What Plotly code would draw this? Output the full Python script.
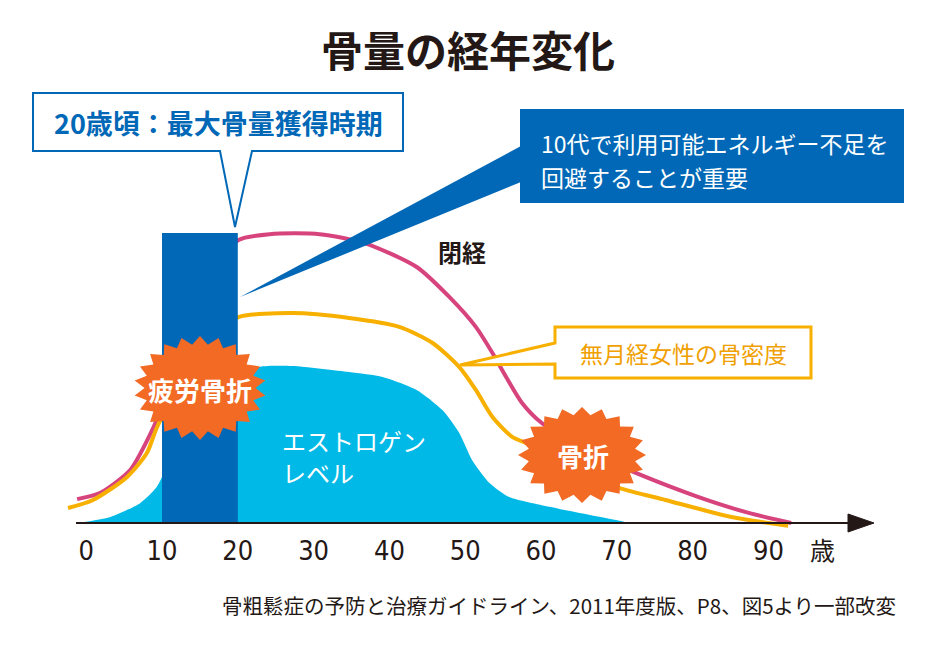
import math
import plotly.graph_objects as go

W, H = 934, 650
OFF = 8                      # page body margin offset of the plot div
FW, FH = W - OFF, H - OFF    # figure size

# ---------------- data ----------------
ages_normal = [-1.2, 1.8, 5.8, 8.4, 10.4, 15.0, 18.3, 20.1, 24.2, 30.8, 36.7, 43.6,
               47.9, 51.4, 53.6, 55.4, 57.5, 60.1, 66.0, 72.5, 80.8, 87.4, 93.0]
bone_normal = [8.3, 10.4, 18.4, 30.6, 42.7, 77.0, 93.0, 98.3, 100.3, 100.3, 97.2, 88.9,
               78.5, 68.1, 59.0, 50.7, 41.7, 34.7, 25.0, 17.4, 9.0, 3.5, 0.0]

ages_amen = [-2.4, 0.9, 5.4, 8.0, 9.3, 13.0, 17.0, 20.1, 27.2, 34.7, 41.3, 45.7,
             49.2, 51.4, 53.6, 56.2, 58.0, 64.0, 70.3, 76.4, 85.1, 92.6]
bone_amen = [5.2, 8.0, 16.0, 24.3, 33.0, 52.0, 66.0, 71.5, 72.9, 71.2, 68.1, 62.5,
             54.2, 46.2, 36.8, 29.9, 27.8, 19.0, 12.2, 8.0, 2.1, -1.0]

ages_estrogen = [-1.1, 3.2, 7.1, 9.3, 12.4, 17.6, 20.3, 22.9, 27.2, 34.7, 39.1, 43.6,
                 47.0, 49.2, 50.9, 53.2, 55.8, 61.1, 69.9, 71.6]
estrogen_level = [0.0, 2.1, 6.9, 12.5, 28.8, 44.4, 50.7, 54.2, 54.5, 52.4, 50.7, 46.2,
                  39.2, 31.3, 21.9, 13.9, 9.0, 5.6, 1.0, 0.0]

peak_window = [10, 20]          # 最大骨量獲得時期 (age span)
peak_bar_height = 100.7

tick_vals = [0, 10, 20, 30, 40, 50, 60, 70, 80, 90]
tick_text = ["0", "10", "20", "30", "40", "50", "60", "70", "80", "90"]

# ---------------- colours / fonts ----------------
PINK = "#d7447d"
ORANGE = "#f8b000"
CYAN = "#00b9e6"
BLUE = "#0068b6"
BURST = "#f26a24"
INK = "#231815"
JP = "Noto Sans CJK JP"

# ---------------- layout geometry (pixel mapping, page pixels) ----------------
X_REF_PX, X_REF_AGE, PX_PER_YR = 162 - OFF, 10, 7.58
Y0_PX, PX_PER_UNIT = 523 - OFF, 2.88
x_range = [X_REF_AGE - X_REF_PX / PX_PER_YR, X_REF_AGE + (FW - X_REF_PX) / PX_PER_YR]
y_range = [-(FH - Y0_PX) / PX_PER_UNIT, Y0_PX / PX_PER_UNIT]


def P(x, y):
    return (x - OFF) / FW, 1 - (y - OFF) / FH


def path(points, close=True):
    s = ""
    for i, (x, y) in enumerate(points):
        px, py = P(x, y)
        s += ("M" if i == 0 else "L") + f" {px:.5f},{py:.5f} "
    return s + ("Z" if close else "")


def burst(cx, cy, rx, ry, n, inner):
    pts = []
    for i in range(2 * n):
        a = math.pi * i / n - math.pi / 2
        r = 1.0 if i % 2 == 0 else inner
        pts.append((cx + rx * r * math.cos(a), cy + ry * r * math.sin(a)))
    return path(pts)


fig = go.Figure()

# estrogen area
fig.add_trace(go.Scatter(x=ages_estrogen, y=estrogen_level, mode="lines",
                         line=dict(color=CYAN, width=0, shape="spline", smoothing=0.6),
                         fill="tozeroy", fillcolor=CYAN, hoverinfo="skip"))
# normal bone mass
fig.add_trace(go.Scatter(x=ages_normal, y=bone_normal, mode="lines",
                         line=dict(color=PINK, width=4, shape="spline", smoothing=0.7),
                         hoverinfo="skip"))
# amenorrhoea bone mass
fig.add_trace(go.Scatter(x=ages_amen, y=bone_amen, mode="lines",
                         line=dict(color=ORANGE, width=4, shape="spline", smoothing=0.7),
                         hoverinfo="skip"))
# peak bone mass window
bx = [peak_window[0], peak_window[0], peak_window[1], peak_window[1]]
by = [0, peak_bar_height, peak_bar_height, 0]
fig.add_trace(go.Scatter(x=bx, y=by, mode="lines", line=dict(width=0, color=BLUE),
                         fill="toself", fillcolor=BLUE, hoverinfo="skip"))

shapes = []
# axis line + arrow head
shapes.append(dict(type="path", xref="paper", yref="paper",
                   path=path([(76, 523), (850, 523)], close=False),
                   line=dict(color=INK, width=2), layer="above"))
shapes.append(dict(type="path", xref="paper", yref="paper",
                   path=path([(848, 514), (874, 523), (848, 532)]),
                   fillcolor=INK, line=dict(color=INK, width=1), layer="above"))
# wedge from blue box to bar
shapes.append(dict(type="path", xref="paper", yref="paper",
                   path=path([(240, 297), (521, 146), (521, 182)]),
                   fillcolor=BLUE, line=dict(width=0), layer="above"))
# blue info box
shapes.append(dict(type="path", xref="paper", yref="paper",
                   path=path([(520, 109), (904, 109), (904, 203), (520, 203)]),
                   fillcolor=BLUE, line=dict(width=0), layer="above"))
# 20歳 callout
shapes.append(dict(type="path", xref="paper", yref="paper",
                   path=path([(33, 93), (403, 93), (403, 151), (252, 151), (235, 227),
                              (220, 151), (33, 151)]),
                   fillcolor="white", line=dict(color=BLUE, width=2), layer="above"))
# 無月経 callout
shapes.append(dict(type="path", xref="paper", yref="paper",
                   path=path([(555, 327), (811, 327), (811, 378), (555, 378), (555, 364),
                              (460, 365), (555, 343)]),
                   fillcolor="white", line=dict(color=ORANGE, width=3), layer="above"))
# bursts
shapes.append(dict(type="path", xref="paper", yref="paper",
                   path=burst(200, 388, 66, 52, 22, 0.84),
                   fillcolor=BURST, line=dict(width=0), layer="above"))
shapes.append(dict(type="path", xref="paper", yref="paper",
                   path=burst(582, 455, 64, 48, 20, 0.84),
                   fillcolor=BURST, line=dict(width=0), layer="above"))


def txt(x, y, s, size, color, bold=False, xanchor="center", family=JP):
    px, py = P(x, y)
    t = f"<b>{s}</b>" if bold else s
    return dict(x=px, y=py, xref="paper", yref="paper", text=t, showarrow=False,
                xanchor=xanchor, yanchor="middle",
                font=dict(family=family, size=size, color=color))


annotations = [
    txt(468, 49, "骨量の経年変化", 42, INK, bold=True),
    txt(218, 122, "20歳頃：最大骨量獲得時期", 27, BLUE, bold=True),
    txt(539, 143, "10代で利用可能エネルギー不足を", 23, "white", xanchor="left"),
    txt(539, 177, "回避することが重要", 23, "white", xanchor="left"),
    txt(462, 251, "閉経", 24, INK, bold=True),
    txt(683, 353, "無月経女性の骨密度", 23, "#f0a000"),
    txt(200, 389, "疲労骨折", 26, "white", bold=True),
    txt(583, 455, "骨折", 26, "white", bold=True),
    txt(280, 440, "エストロゲン", 24, "white", xanchor="left"),
    txt(280, 472, "レベル", 24, "white", xanchor="left"),
    txt(822, 549, "歳", 25, INK),
    txt(898, 605, "骨粗鬆症の予防と治療ガイドライン、2011年度版、P8、図5より一部改変",
        20.5, INK, xanchor="right"),
]

fig.update_layout(
    width=FW, height=FH,
    margin=dict(l=0, r=0, t=0, b=0),
    paper_bgcolor="white", plot_bgcolor="white",
    showlegend=False,
    shapes=shapes,
    annotations=annotations,
    xaxis=dict(range=x_range, showgrid=False, zeroline=False, showline=False,
               anchor="free", position=1 - Y0_PX / FH,
               tickmode="array", tickvals=tick_vals, ticktext=tick_text,
               ticks="", ticklabelstandoff=9,
               tickfont=dict(family="Liberation Sans Narrow, DejaVu Sans Condensed",
                             size=27, color=INK),
               fixedrange=True),
    yaxis=dict(range=y_range, visible=False, fixedrange=True),
)

fig.write_html("out.html")
